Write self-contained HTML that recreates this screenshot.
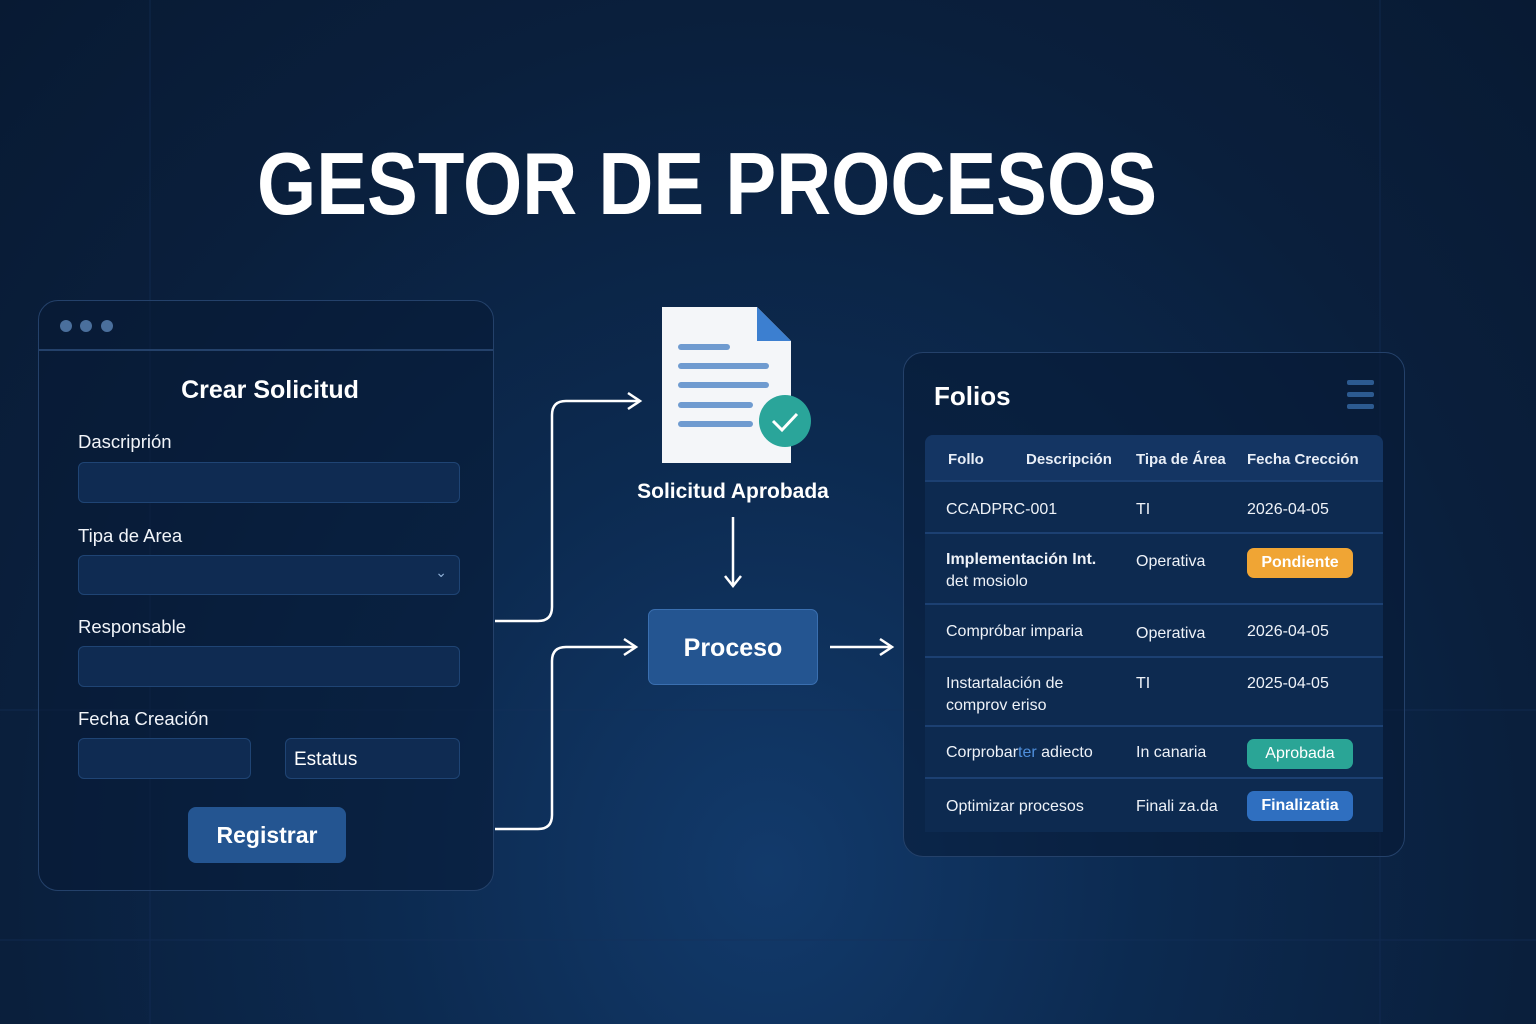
<!DOCTYPE html>
<html><head><meta charset="utf-8"><style>
*{margin:0;padding:0;box-sizing:border-box}
body{width:1536px;height:1024px;overflow:hidden;font-family:"Liberation Sans",sans-serif;color:#fff;
background:radial-gradient(ellipse at 50% 85%,#123a6b 0%,#0c2a50 35%,#0a1f3c 70%,#081a33 100%);position:relative}
.a{position:absolute}
.panel{border:1.5px solid #24416a;border-radius:20px;background:rgba(8,26,52,0.55)}
.inp{position:absolute;border:1.5px solid #1f4474;border-radius:6px;background:#0f2b52}
.lbl{position:absolute;font-size:18.5px;color:#f2f5fa}
.th{position:absolute;font-size:15px;font-weight:bold;color:#e8eef7}
.td{position:absolute;font-size:16px;color:#eef2f8;line-height:22px}
.hl{position:absolute;left:925px;width:458px;height:2px;background:#1c4072}
.badge{position:absolute;left:1247px;width:106px;height:30px;border-radius:7px;font-size:16px;font-weight:bold;text-align:center;line-height:30px}
</style></head><body>
<svg class="a" style="left:0;top:0" width="1536" height="1024">
<g stroke="#15305a" stroke-width="1" opacity="0.6">
<line x1="0" y1="940" x2="1536" y2="940"/><line x1="0" y1="710" x2="1536" y2="710"/>
<line x1="150" y1="0" x2="150" y2="1024"/><line x1="1380" y1="0" x2="1380" y2="1024"/>
</g>
<text x="257" y="214" font-family="Liberation Sans" font-weight="bold" font-size="88" fill="#fff" textLength="900" lengthAdjust="spacingAndGlyphs">GESTOR DE PROCESOS</text>
<g fill="none" stroke="#fff" stroke-width="2.5">
<path d="M495 621 H538 Q552 621 552 607 V415 Q552 401 566 401 H638"/>
<path d="M628 393 L640 401 L628 409"/>
<path d="M495 829 H538 Q552 829 552 815 V661 Q552 647 566 647 H634"/>
<path d="M624 639 L636 647 L624 655"/>
<path d="M733 517 V585"/><path d="M725 576 L733 586 L741 576"/>
<path d="M830 647 H890"/><path d="M880 639 L892 647 L880 655"/>
</g>
<path d="M662 307 H757 L791 341 V463 H662 Z" fill="#f4f6f9"/>
<path d="M757 307 L791 341 H757 Z" fill="#3c7fd0"/>
<g stroke="#6f9bd0" stroke-width="6" stroke-linecap="round">
<line x1="681" y1="347" x2="727" y2="347"/><line x1="681" y1="366" x2="766" y2="366"/>
<line x1="681" y1="385" x2="766" y2="385"/><line x1="681" y1="405" x2="750" y2="405"/>
<line x1="681" y1="424" x2="750" y2="424"/></g>
<circle cx="785" cy="421" r="26" fill="#2aa59a"/>
<path d="M773 421 L782 430 L797 414" fill="none" stroke="#fff" stroke-width="3"/>
</svg>
<div class="a" style="left:610px;top:480px;width:246px;text-align:center;font-size:21px;font-weight:bold">Solicitud Aprobada</div>
<div class="a" style="left:648px;top:609px;width:170px;height:76px;background:#245591;border:1px solid #3a6fb0;border-radius:7px;text-align:center;line-height:76px;font-size:25px;font-weight:bold">Proceso</div>

<div class="a panel" style="left:38px;top:300px;width:456px;height:591px"></div>
<div class="a" style="left:38px;top:349px;width:456px;height:1.5px;background:#24416a"></div>
<div class="a" style="left:60px;top:320px;width:12px;height:12px;border-radius:50%;background:#4a6f9c"></div>
<div class="a" style="left:80px;top:320px;width:12px;height:12px;border-radius:50%;background:#4a6f9c"></div>
<div class="a" style="left:101px;top:320px;width:12px;height:12px;border-radius:50%;background:#4a6f9c"></div>
<div class="a" style="left:38px;top:376px;width:464px;text-align:center;font-size:25px;font-weight:bold">Crear Solicitud</div>
<div class="lbl" style="left:78px;top:431px">Dascriprión</div>
<div class="inp" style="left:78px;top:462px;width:382px;height:41px"></div>
<div class="lbl" style="left:78px;top:525px">Tipa de Area</div>
<div class="inp" style="left:78px;top:555px;width:382px;height:40px"><span class="a" style="right:12px;top:8px;font-size:14px;color:#8fb0d8">⌄</span></div>
<div class="lbl" style="left:78px;top:616px">Responsable</div>
<div class="inp" style="left:78px;top:646px;width:382px;height:41px"></div>
<div class="lbl" style="left:78px;top:708px">Fecha Creación</div>
<div class="inp" style="left:78px;top:738px;width:173px;height:41px"></div>
<div class="inp" style="left:285px;top:738px;width:175px;height:41px"><span class="a" style="left:8px;top:10px;font-size:19px;color:#fff">Estatus</span></div>
<div class="a" style="left:188px;top:807px;width:158px;height:56px;background:#245591;border-radius:8px;text-align:center;line-height:56px;font-size:23px;font-weight:bold">Registrar</div>

<div class="a panel" style="left:903px;top:352px;width:502px;height:505px"></div>
<div class="a" style="left:934px;top:381px;font-size:26px;font-weight:bold">Folios</div>
<div class="a" style="left:1347px;top:380px;width:27px;height:5px;background:#2c5a90;border-radius:2px"></div>
<div class="a" style="left:1347px;top:392px;width:27px;height:5px;background:#2c5a90;border-radius:2px"></div>
<div class="a" style="left:1347px;top:404px;width:27px;height:5px;background:#2c5a90;border-radius:2px"></div>
<div class="a" style="left:925px;top:435px;width:458px;height:397px;background:#0d2a50;border-radius:8px 8px 0 0"></div>
<div class="a" style="left:925px;top:435px;width:458px;height:46px;background:#143563;border-radius:8px 8px 0 0"></div>
<div class="th" style="left:948px;top:451px">Follo</div>
<div class="th" style="left:1026px;top:451px">Descripción</div>
<div class="th" style="left:1136px;top:451px">Tipa de Área</div>
<div class="th" style="left:1247px;top:451px">Fecha Crección</div>
<div class="hl" style="top:480px"></div><div class="hl" style="top:532px"></div><div class="hl" style="top:603px"></div>
<div class="hl" style="top:656px"></div><div class="hl" style="top:725px"></div><div class="hl" style="top:777px"></div>
<div class="td" style="left:946px;top:499px">CCADPRC-001</div><div class="td" style="left:1136px;top:499px">TI</div><div class="td" style="left:1247px;top:499px">2026-04-05</div>
<div class="td" style="left:946px;top:549px"><b>Implementación Int.</b><br>det mosiolo</div><div class="td" style="left:1136px;top:551px">Operativa</div>
<div class="badge" style="top:548px;background:#f0a534">Pondiente</div>
<div class="td" style="left:946px;top:621px">Compróbar imparia</div><div class="td" style="left:1136px;top:623px">Operativa</div><div class="td" style="left:1247px;top:621px">2026-04-05</div>
<div class="td" style="left:946px;top:673px">Instartalación de<br>comprov eriso</div><div class="td" style="left:1136px;top:673px">TI</div><div class="td" style="left:1247px;top:673px">2025-04-05</div>
<div class="td" style="left:946px;top:742px">Corprobar<span style="color:#4f8fdc">ter</span> adiecto</div><div class="td" style="left:1136px;top:742px">In canaria</div>
<div class="badge" style="top:739px;background:#2aa596;font-weight:normal">Aprobada</div>
<div class="td" style="left:946px;top:796px">Optimizar procesos</div><div class="td" style="left:1136px;top:796px">Finali za.da</div>
<div class="badge" style="top:791px;background:#2f6fc0">Finalizatia</div>
</body></html>
